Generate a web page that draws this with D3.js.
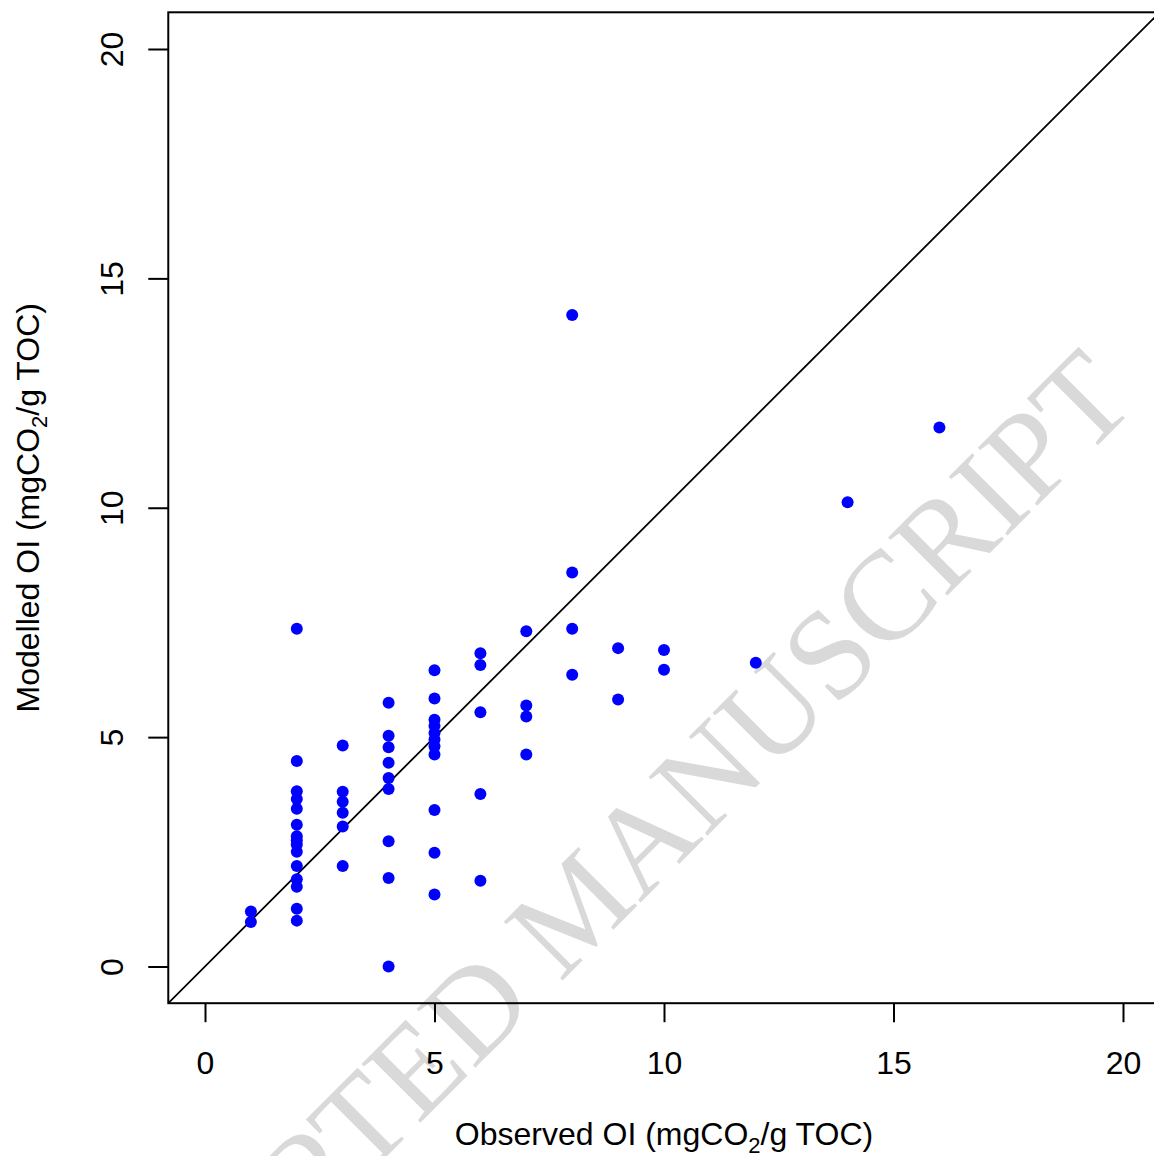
<!DOCTYPE html>
<html>
<head>
<meta charset="utf-8">
<script src="https://cdn.jsdelivr.net/npm/d3@7"></script>
<style>
  html, body { margin: 0; padding: 0; background: #fff; }
  svg { display: block; }
  .sans { font-family: "Liberation Sans", Arial, Helvetica, sans-serif; }
  .serif { font-family: "Liberation Serif", "Times New Roman", serif; }
</style>
</head>
<body>
<svg id="chart" width="1154" height="1156"></svg>
<script>
// ---- Data ----
const observed = [
  1, 1,
  2, 2, 2, 2, 2, 2, 2, 2, 2, 2, 2, 2, 2, 2, 2,
  3, 3, 3, 3, 3, 3,
  4, 4, 4, 4, 4, 4, 4, 4, 4,
  5, 5, 5, 5, 5, 5, 5, 5, 5, 5, 5,
  6, 6, 6, 6, 6,
  7, 7, 7, 7,
  8, 8, 8, 8,
  9, 9,
  10, 10,
  12, 14, 16
];
const modelled = [
  1.20, 0.97,
  7.36, 4.48, 3.82, 3.65, 3.44, 3.09, 2.84, 2.75, 2.66, 2.50, 2.19, 1.90, 1.74, 1.26, 1.00,
  4.82, 3.81, 3.59, 3.35, 3.05, 2.19,
  5.75, 5.03, 4.78, 4.44, 4.11, 3.87, 2.73, 1.93, 0.00,
  6.46, 5.84, 5.38, 5.24, 5.09, 4.95, 4.80, 4.62, 3.41, 2.48, 1.57,
  6.83, 6.57, 5.54, 3.76, 1.87,
  7.31, 5.69, 5.45, 4.62,
  14.20, 8.59, 7.36, 6.36,
  6.94, 5.82,
  6.90, 6.47,
  6.62, 10.12, 11.75
];
const xTicks = [0, 5, 10, 15, 20];
const yTicks = [0, 5, 10, 15, 20];
const xLabel = "Observed OI (mgCO";
const yLabel = "Modelled OI (mgCO";
const watermarkWords = ["ACCEPTED", "MANUSCRIPT"];

// ---- Scales ----
const lo = -0.8, hi = 20.8;
const x = d3.scaleLinear().domain([0, 20]).range([205, 1123]);
const y = d3.scaleLinear().domain([0, 20]).range([966.5, 49]);
const boxL = x(lo), boxR = x(hi), boxT = y(hi), boxB = y(lo);
const FS = 32;

const svg = d3.select("#chart");

// ---- Watermark (behind) ----
const wmX = 560, wmY = 983, wmSize = 127;
const wmG = svg.append("g")
  .attr("transform", `translate(${wmX},${wmY}) rotate(-45)`);
wmG.append("text").attr("class", "serif").attr("font-size", wmSize).attr("fill", "#d9d9d9")
  .attr("text-anchor", "end").attr("x", -0.25 * wmSize).text(watermarkWords[0]);
wmG.append("text").attr("class", "serif").attr("font-size", wmSize).attr("fill", "#d9d9d9")
  .attr("text-anchor", "start").attr("x", 0).text(watermarkWords[1]);

// ---- Clip ----
svg.append("clipPath").attr("id", "plotclip")
  .append("rect").attr("x", boxL).attr("y", boxT)
  .attr("width", boxR - boxL).attr("height", boxB - boxT);

// 1:1 line
svg.append("line")
  .attr("clip-path", "url(#plotclip)")
  .attr("x1", x(lo)).attr("y1", y(lo))
  .attr("x2", x(hi)).attr("y2", y(hi))
  .attr("stroke", "#000").attr("stroke-width", 1.8);

// points
svg.append("g").selectAll("circle")
  .data(observed.map((o, i) => [o, modelled[i]]))
  .join("circle")
  .attr("cx", d => x(d[0]))
  .attr("cy", d => y(d[1]))
  .attr("r", 6)
  .attr("fill", "#0000ff");

// box
svg.append("rect")
  .attr("x", boxL).attr("y", boxT)
  .attr("width", boxR - boxL).attr("height", boxB - boxT)
  .attr("fill", "none").attr("stroke", "#000").attr("stroke-width", 2);

// ---- Axes ----
const xAxis = d3.axisBottom(x).tickValues(xTicks).tickSize(19).tickFormat(d3.format("d"));
const gx = svg.append("g").attr("transform", `translate(0,${boxB})`).call(xAxis);
gx.select(".domain").remove();
gx.selectAll(".tick line").attr("stroke", "#000").attr("stroke-width", 2);
gx.selectAll(".tick text").attr("class", "sans").attr("font-size", FS).attr("fill", "#000")
  .attr("y", 1074 - boxB).attr("dy", 0);

const yAxis = d3.axisLeft(y).tickValues(yTicks).tickSize(20).tickFormat(d3.format("d"));
const gy = svg.append("g").attr("transform", `translate(${boxL},0)`).call(yAxis);
gy.select(".domain").remove();
gy.selectAll(".tick line").attr("stroke", "#000").attr("stroke-width", 2);
gy.selectAll(".tick text").attr("class", "sans").attr("font-size", FS).attr("fill", "#000")
  .attr("x", 0).attr("y", 0).attr("dy", 0)
  .attr("text-anchor", "middle")
  .attr("transform", `translate(${123 - boxL},0) rotate(-90)`);

// ---- Axis titles ----
function title(sel, base) {
  sel.append("tspan").text(base);
  sel.append("tspan").text("2").attr("font-size", 22).attr("dy", 8);
  sel.append("tspan").text("/g TOC)").attr("dy", -8);
}
const xt = svg.append("text").attr("class", "sans")
  .attr("x", (boxL + boxR) / 2).attr("y", 1145)
  .attr("text-anchor", "middle").attr("font-size", FS).attr("fill", "#000");
title(xt, xLabel);

const yt = svg.append("text").attr("class", "sans")
  .attr("transform", `translate(39,${(boxT + boxB) / 2}) rotate(-90)`)
  .attr("text-anchor", "middle").attr("font-size", FS).attr("fill", "#000");
title(yt, yLabel);
</script>
</body>
</html>
